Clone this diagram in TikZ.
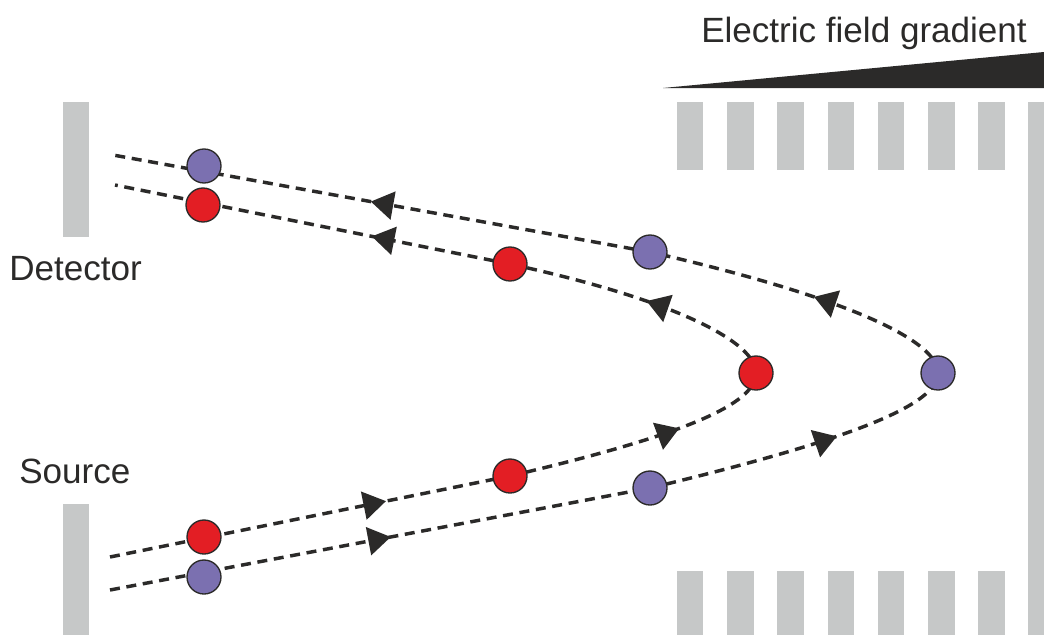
\documentclass[tikz,border=0pt]{standalone}
\usepackage{fontspec}
\setmainfont{Liberation Sans}
\usetikzlibrary{arrows.meta,decorations.markings}
\definecolor{ink}{HTML}{2B2A29}
\definecolor{plate}{HTML}{C6C8C8}
\definecolor{ionred}{HTML}{E31E24}
\definecolor{ionblue}{HTML}{7B70B0}
\begin{document}
\begin{tikzpicture}[x=0.75pt,y=0.75pt,
  electrode/.style={fill=plate, draw=none},
  traj/.style={draw=ink, line width=2.6pt, dash pattern=on 7.5pt off 5pt},
  midarrow/.style={postaction={decorate,decoration={markings,
      mark=at position #1 with {\arrow[ink]{Triangle[length=17pt,width=21pt]}}}}},
  ion/.style={circle, draw=ink, line width=1pt, minimum size=25.5pt, inner sep=0pt},
  redion/.style={ion, fill=ionred},
  blueion/.style={ion, fill=ionblue},
  labeltext/.style={font=\fontsize{26.3}{30}\selectfont, text=ink, inner sep=0pt, anchor=base west}]
\useasboundingbox (0,0) rectangle (1044,-635);

% detector and source plates
\fill[electrode] (62.7,-102) rectangle (89.3,-237);
\fill[electrode] (62.7,-504) rectangle (89.3,-635);

% mirror electrodes
\foreach \i in {0,...,6} {
  \fill[electrode] ({676.7+50.27*\i},-102) rectangle ({703.4+50.27*\i},-170);
  \fill[electrode] ({676.7+50.27*\i},-571) rectangle ({703.4+50.27*\i},-635);
}
\fill[electrode] (1028,-102) rectangle (1044,-635);

% field gradient wedge
\fill[ink] (663,-88) -- (1044,-52) -- (1044,-88) -- cycle;

% trajectory way points
\coordinate (tbS) at (113,-155);
\coordinate (tbM) at (650,-252);
\coordinate (apB) at (938,-373);
\coordinate (trS) at (115,-185);
\coordinate (trM) at (510,-264);
\coordinate (apR) at (756,-373);
\coordinate (brS) at (110,-557);
\coordinate (brM) at (510,-476);
\coordinate (bbS) at (110,-590);
\coordinate (bbM) at (650,-488);

% outgoing legs (source to turning point)
\draw[traj, midarrow=0.69] (brS) -- (brM);
\draw[traj, midarrow=0.64] (brM) .. controls (680,-436) and (756,-405) .. (apR);
\draw[traj, midarrow=0.52] (bbS) -- (bbM);
\draw[traj, midarrow=0.61] (bbM) .. controls (850,-440) and (938,-405) .. (apB);

% returning legs (turning point to detector)
\draw[traj, midarrow=0.47] (apB) .. controls (938,-341) and (850,-298) .. (tbM);
\draw[traj, midarrow=0.52] (tbM) -- (tbS);
\draw[traj, midarrow=0.49] (apR) .. controls (756,-343) and (680,-301) .. (trM);
\draw[traj, midarrow=0.35] (trM) -- (trS);

% ions
\node[blueion] (b1) at (204,-166) {};
\node[redion]  (r1) at (203,-205) {};
\node[redion]  (r2) at (510,-264) {};
\node[blueion] (b2) at (650,-252) {};
\node[redion]  (r3) at (756,-373) {};
\node[blueion] (b3) at (938,-373) {};
\node[redion]  (r4) at (510,-476) {};
\node[blueion] (b4) at (650,-488) {};
\node[redion]  (r5) at (204,-537) {};
\node[blueion] (b5) at (204,-577) {};

% labels
\node[labeltext] (efg) at (701,-43) {Electric field gradient};
\node[labeltext] (det) at (9,-280) {Detector};
\node[labeltext] (src) at (19,-483) {Source};
\end{tikzpicture}
\end{document}
